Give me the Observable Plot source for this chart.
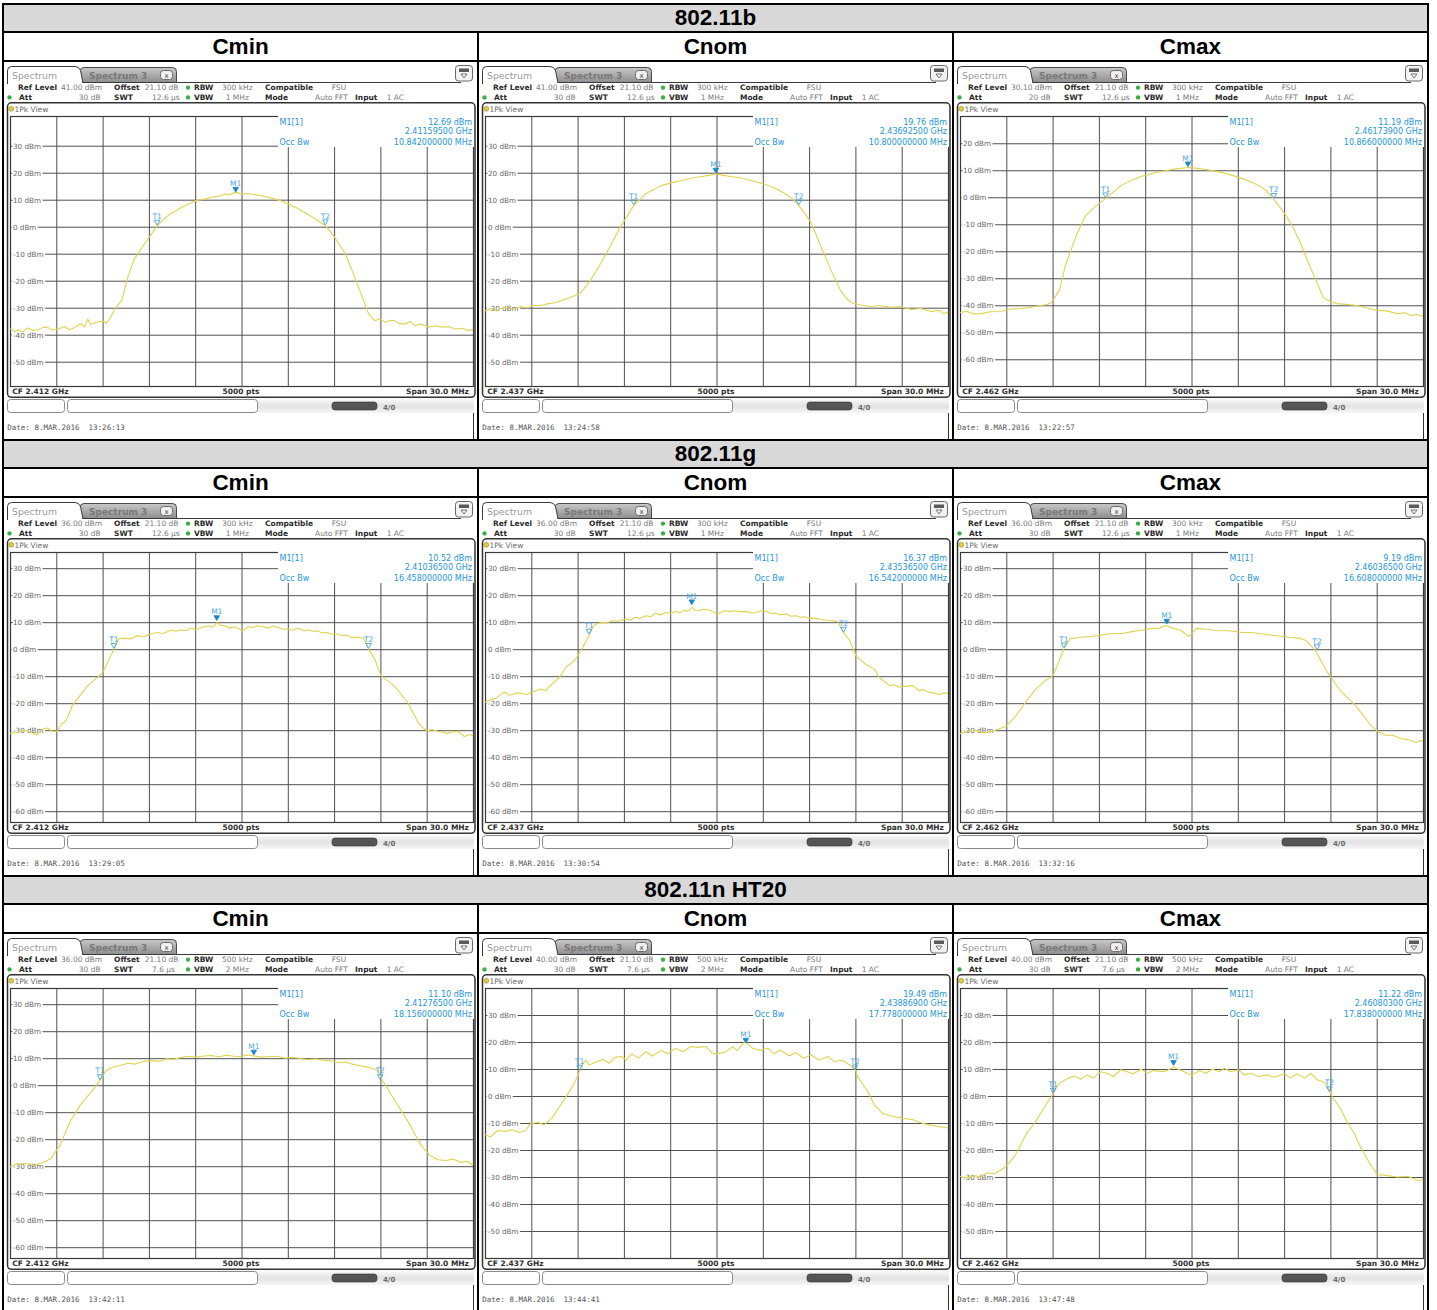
<!DOCTYPE html>
<html>
<head>
<meta charset="utf-8">
<script src="https://cdn.jsdelivr.net/npm/d3@7"></script>
<script src="https://cdn.jsdelivr.net/npm/@observablehq/plot@0.6"></script>
<style>
html,body{margin:0;padding:0;background:#fff;}
#page{position:relative;width:1437px;height:1310px;overflow:hidden;background:#fff;}
.box{position:absolute;box-sizing:border-box;overflow:hidden;}
.hdr{background:#d9d9d9;font:bold 22.5px "Liberation Sans",Arial,sans-serif;color:#000;text-align:center;}
.colh{background:#fff;font:bold 22.5px "Liberation Sans",Arial,sans-serif;color:#000;text-align:center;}
.panel{background:#fff;}
.panel svg{position:absolute;}
</style>
</head>
<body>
<div id="page"></div>
<script>
// ---------- data ----------
const modes = ["802.11b", "802.11g", "802.11n HT20"];
const channels = ["Cmin", "Cnom", "Cmax"];
const centerFreqs = ["2.412", "2.437", "2.462"]; // GHz
const refLevels = [[41, 41, 30.1], [36, 36, 36], [36, 40, 40]]; // dBm
const attValues = [[30, 30, 20], [30, 30, 30], [30, 30, 30]]; // dB
const offsetValue = "21.10 dB";
const swtValues = [["12.6", "12.6", "12.6"], ["12.6", "12.6", "12.6"], ["7.6", "7.6", "7.6"]];
const rbwValues = [["300 kHz", "300 kHz", "300 kHz"], ["300 kHz", "300 kHz", "300 kHz"], ["500 kHz", "500 kHz", "500 kHz"]];
const vbwValues = [["1 MHz", "1 MHz", "1 MHz"], ["1 MHz", "1 MHz", "1 MHz"], ["2 MHz", "2 MHz", "2 MHz"]];
const dateTimes = [["13:26:13", "13:24:58", "13:22:57"], ["13:29:05", "13:30:54", "13:32:16"], ["13:42:11", "13:44:41", "13:47:48"]];
const m1Levels = [["12.69", "19.76", "11.19"], ["10.52", "16.37", "9.19"], ["11.10", "19.49", "11.22"]]; // dBm
const m1Freqs = [["2.41159500", "2.43692500", "2.46173900"], ["2.41036500", "2.43536500", "2.46036500"], ["2.41276500", "2.43886900", "2.46080300"]]; // GHz
const occBw = [["10.842000000", "10.800000000", "10.866000000"], ["16.458000000", "16.542000000", "16.608000000"], ["18.156000000", "17.778000000", "17.838000000"]]; // MHz
// T1 / T2 occupied-bandwidth markers: [offset MHz, level dBm]
const t1Markers = [[[-5.5, 0.5], [-5.4, 8.0], [-5.6, -0.3]], [[-8.3, 0.2], [-8.3, 5.5], [-8.3, 0.4]], [[-9.2, 2.0], [-8.9, 9.5], [-9.0, 1.0]]];
const t2Markers = [[[5.4, 0.6], [5.3, 8.0], [5.3, -0.5]], [[8.2, 0.2], [8.2, 6.2], [8.1, -0.3]], [[8.95, 2.0], [8.95, 9.6], [8.9, 1.5]]];

// traces: [frequency offset from CF (MHz), level (dBm)]
const trace_b_cmin = [[-15,-37.7],[-14.7,-38.6],[-14.5,-38.0],[-14.2,-38.8],[-13.9,-37.3],[-13.6,-38.2],[-13.2,-38.0],[-12.9,-37.1],[-12.6,-37.0],[-12.3,-38.1],[-11.9,-37.7],[-11.5,-36.8],[-11.2,-38.0],[-10.9,-37.3],[-10.6,-36.2],[-10.4,-35.8],[-10.2,-37.0],[-10.0,-34.0],[-9.8,-36.0],[-9.6,-35.6],[-9.3,-35.0],[-9.0,-34.8],[-8.8,-35.5],[-8.5,-33.3],[-8.2,-29.9],[-7.8,-27.2],[-7.4,-18.5],[-7.0,-12.1],[-6.5,-7.7],[-6.1,-4.4],[-5.5,0.5],[-4.8,4.3],[-3.9,7.4],[-3.0,9.9],[-2.5,10.3],[-2.0,11.1],[-1.5,11.5],[-1.1,12.3],[-0.8,12.0],[-0.4,12.9],[0,12.3],[0.5,12.4],[1.2,11.7],[1.6,11.3],[2.1,10.5],[2.5,9.8],[3.0,8.6],[3.5,7.3],[4.0,5.6],[4.5,4.0],[4.9,2.5],[5.4,0.6],[6.0,-3.7],[6.7,-9.9],[7.3,-18.5],[7.8,-25.9],[8.2,-32.1],[8.6,-34.6],[8.9,-34.0],[9.3,-35.2],[9.6,-34.5],[9.9,-34.6],[10.2,-35.7],[10.6,-35.8],[10.9,-34.9],[11.2,-36.4],[11.6,-35.9],[12.1,-37.0],[12.5,-36.5],[13.0,-37.0],[13.4,-36.8],[13.8,-37.7],[14.3,-37.4],[14.6,-38.2],[15,-38.0]];
const trace_b_cnom = [[-15,-30.9],[-14.6,-30.2],[-14.3,-31.0],[-14.0,-30.1],[-13.6,-29.6],[-13.2,-30.3],[-12.7,-29.4],[-12.3,-29.9],[-11.9,-29.0],[-11.4,-29.0],[-11.0,-28.4],[-10.4,-27.9],[-10.0,-27.0],[-9.5,-26.0],[-9.1,-25.0],[-8.8,-24.2],[-8.2,-19.7],[-7.5,-13.1],[-6.9,-6.8],[-6.2,0.6],[-5.4,8.0],[-4.6,12.5],[-3.6,15.4],[-2.9,16.5],[-2.3,17.3],[-1.6,18.2],[-1.0,18.8],[-0.5,19.2],[-0.1,19.8],[0.4,19.2],[0.9,18.8],[1.5,18.3],[2.2,17.3],[2.8,16.4],[3.5,15.1],[4.0,13.8],[4.5,12.1],[4.9,10.5],[5.3,8.0],[5.7,5.0],[6.1,1.7],[6.7,-6.8],[7.4,-16.0],[8.0,-23.4],[8.4,-26.5],[8.7,-27.9],[9.3,-28.8],[10.0,-29.4],[10.5,-29.0],[11.3,-29.7],[11.8,-29.4],[12.6,-30.5],[13.2,-30.1],[13.9,-31.2],[14.4,-30.8],[14.7,-32.0],[15,-31.5]];
const trace_b_cmax = [[-15,-42.5],[-14.6,-42.0],[-14.2,-43.0],[-13.6,-42.9],[-13.1,-42.2],[-12.4,-42.1],[-11.8,-41.3],[-11.1,-41.0],[-10.5,-40.6],[-9.8,-39.9],[-9.4,-39.5],[-9.1,-38.8],[-8.6,-34.3],[-8.2,-25.1],[-7.5,-14.0],[-6.9,-6.6],[-6.2,-2.9],[-5.6,-0.3],[-4.6,4.5],[-3.9,6.5],[-3.3,7.9],[-2.6,9.0],[-2.0,9.7],[-1.3,10.5],[-0.7,10.9],[-0.2,11.2],[0.5,10.8],[1.3,10.1],[2.0,9.3],[2.6,8.3],[3.3,7.0],[3.9,5.7],[4.4,4.3],[4.8,2.7],[5.3,-0.5],[6.1,-6.6],[6.6,-11.5],[7.1,-17.7],[7.5,-23.5],[7.9,-28.8],[8.5,-36.9],[9.0,-38.6],[9.4,-39.2],[10.0,-39.5],[10.7,-39.9],[11.3,-40.8],[12.0,-41.7],[12.6,-41.9],[13.3,-42.9],[13.8,-42.6],[14.2,-43.6],[14.6,-43.2],[15,-44.0]];
const trace_g_cmin = [[-15,-31.0],[-14.5,-30.6],[-14.1,-29.8],[-13.7,-30.6],[-13.3,-31.5],[-12.9,-29.4],[-12.6,-29.0],[-12.3,-30.2],[-12.0,-30.2],[-11.7,-27.5],[-11.5,-26.9],[-11.3,-25.1],[-11.0,-20.7],[-10.5,-17.0],[-10.0,-13.3],[-9.5,-10.9],[-9.1,-9.0],[-8.8,-5.9],[-8.5,-2.2],[-8.3,0.2],[-8.0,4.0],[-7.6,4.3],[-7.2,4.0],[-6.8,5.2],[-6.4,4.8],[-6.1,5.4],[-5.8,6.0],[-5.5,6.4],[-5.1,6.0],[-4.6,7.3],[-4.3,6.8],[-4.0,7.3],[-3.6,7.0],[-3.3,8.0],[-3.0,7.4],[-2.7,8.0],[-2.4,8.6],[-2.2,8.9],[-1.9,8.3],[-1.6,10.1],[-1.4,9.0],[-1.1,8.9],[-0.8,8.0],[-0.5,8.5],[-0.2,7.8],[0.0,7.0],[0.2,7.6],[0.4,8.5],[0.7,8.2],[1.0,8.9],[1.4,8.5],[1.7,8.0],[2.0,8.8],[2.3,8.3],[2.7,7.6],[3.0,7.7],[3.3,7.2],[3.6,8.0],[4.0,7.0],[4.3,7.3],[4.6,6.8],[4.9,7.0],[5.2,6.2],[5.5,6.4],[5.9,5.6],[6.2,5.8],[6.5,5.2],[6.8,5.4],[7.1,4.5],[7.5,4.6],[7.9,4.2],[8.2,0.2],[8.6,-3.5],[9.0,-9.6],[9.3,-11.0],[9.6,-12.1],[10.0,-14.2],[10.3,-16.4],[10.8,-20.1],[11.1,-23.5],[11.4,-26.9],[11.7,-28.8],[12.0,-30.0],[12.3,-29.6],[12.7,-30.2],[13.0,-30.6],[13.3,-31.0],[13.7,-30.4],[14.0,-30.2],[14.2,-31.2],[14.4,-32.2],[14.7,-31.4],[15,-31.9]];
const trace_g_cnom = [[-15,-19.5],[-14.6,-18.3],[-14.3,-18.0],[-14.1,-17.0],[-13.9,-16.0],[-13.7,-15.8],[-13.5,-16.9],[-13.3,-16.7],[-13.0,-16.0],[-12.6,-16.2],[-12.3,-16.6],[-12.0,-15.8],[-11.7,-15.1],[-11.4,-14.6],[-11.1,-15.2],[-10.8,-13.3],[-10.5,-11.8],[-10.2,-10.2],[-9.8,-6.5],[-9.5,-5.2],[-9.2,-3.8],[-8.9,-1.0],[-8.7,0.9],[-8.5,3.0],[-8.3,5.2],[-8.0,8.9],[-7.7,9.8],[-7.4,10.1],[-7.1,10.0],[-6.8,10.7],[-6.4,10.5],[-5.9,11.4],[-5.6,11.0],[-5.3,12.0],[-5.0,11.6],[-4.6,12.6],[-4.3,12.2],[-4.0,13.5],[-3.7,12.9],[-3.3,13.8],[-3.0,13.4],[-2.7,14.2],[-2.4,13.6],[-2.1,14.7],[-1.9,14.2],[-1.6,15.7],[-1.4,14.6],[-1.2,14.4],[-0.9,15.0],[-0.5,14.7],[-0.2,14.0],[0.0,13.0],[0.2,13.6],[0.5,14.4],[0.8,14.2],[1.2,14.4],[1.5,14.0],[1.9,14.2],[2.2,13.6],[2.5,13.8],[2.9,14.4],[3.2,14.2],[3.5,13.4],[3.8,13.5],[4.1,13.0],[4.5,13.2],[4.8,12.4],[5.1,12.6],[5.4,12.0],[5.7,12.2],[6.0,11.6],[6.4,11.7],[6.7,11.2],[7.0,11.0],[7.4,10.8],[7.8,10.5],[8.2,6.4],[8.6,3.3],[9.0,-2.2],[9.3,-3.8],[9.6,-5.3],[10.2,-7.2],[10.5,-10.2],[10.8,-11.6],[11.2,-13.3],[11.5,-13.0],[11.8,-13.9],[12.2,-13.6],[12.7,-13.3],[13.1,-15.2],[13.4,-14.8],[13.7,-15.8],[14.0,-16.0],[14.4,-16.7],[14.7,-16.0],[15,-16.2]];
const trace_g_cmax = [[-15,-31.0],[-14.5,-30.2],[-14.0,-29.9],[-13.5,-30.8],[-13.0,-30.3],[-12.5,-29.4],[-12.0,-28.1],[-11.4,-24.4],[-10.7,-18.8],[-10.1,-14.4],[-9.5,-11.4],[-9.0,-9.6],[-8.6,-4.0],[-8.3,0.4],[-7.9,4.1],[-7.2,4.6],[-6.5,4.9],[-5.9,5.4],[-5.2,6.0],[-4.5,6.0],[-3.9,6.7],[-3.2,7.3],[-2.6,7.9],[-2.1,8.0],[-1.7,9.0],[-1.2,7.9],[-0.7,7.1],[-0.2,4.9],[0.3,7.9],[0.9,7.6],[1.6,7.1],[2.4,7.0],[3.2,6.4],[4.0,6.3],[4.8,5.6],[5.6,5.1],[6.4,4.5],[7.0,4.2],[7.4,3.4],[8.0,-0.3],[8.7,-7.7],[9.6,-15.1],[10.6,-20.7],[11.6,-28.1],[12.1,-30.5],[12.6,-31.8],[13.0,-31.6],[13.5,-32.9],[14.0,-33.3],[14.5,-34.4],[14.8,-33.6],[15,-34.0]];
const trace_n_cmin = [[-15,-30.0],[-14.6,-29.0],[-14.0,-28.8],[-13.5,-29.5],[-13.1,-28.8],[-12.7,-28.0],[-12.4,-27.0],[-11.8,-22.1],[-11.1,-12.9],[-10.5,-7.3],[-9.7,-1.8],[-9.2,2.0],[-8.8,5.6],[-8.4,6.8],[-7.9,7.5],[-7.4,8.3],[-6.9,8.0],[-6.4,9.0],[-5.9,9.3],[-5.4,9.0],[-4.9,10.0],[-4.4,9.8],[-4.0,10.4],[-3.5,10.9],[-3.0,10.5],[-2.5,11.0],[-2.0,11.2],[-1.5,10.7],[-1.0,11.3],[-0.5,10.9],[-0.1,10.8],[0.3,11.4],[0.7,11.1],[1.2,10.6],[1.8,10.8],[2.3,10.9],[2.8,10.2],[3.3,10.5],[3.8,10.1],[4.3,9.6],[4.8,10.0],[5.2,9.4],[5.7,9.3],[6.2,8.6],[6.7,8.8],[7.2,7.9],[7.6,7.5],[8.2,6.8],[8.8,5.6],[9.1,1.9],[9.9,-5.5],[10.4,-10.0],[10.9,-14.7],[11.6,-22.1],[12.2,-25.9],[12.7,-27.4],[13.2,-27.7],[13.7,-27.2],[14.2,-28.4],[14.6,-28.0],[15,-29.6]];
const trace_n_cnom = [[-15,-14.2],[-14.7,-15.0],[-14.2,-12.6],[-13.7,-12.9],[-13.3,-12.3],[-12.8,-13.3],[-12.4,-12.6],[-12.1,-10.1],[-11.6,-9.6],[-11.2,-10.5],[-10.7,-8.0],[-10.2,-3.7],[-9.7,0.6],[-9.3,4.3],[-9.0,8.0],[-8.8,11.1],[-8.5,13.5],[-8.3,11.7],[-7.9,12.6],[-7.4,13.8],[-7.0,12.3],[-6.6,14.5],[-6.2,14.8],[-5.9,13.5],[-5.5,15.8],[-5.1,14.2],[-4.6,16.6],[-4.2,15.0],[-3.6,17.0],[-3.2,15.8],[-2.7,17.9],[-2.2,16.6],[-1.7,18.5],[-1.2,18.2],[-0.7,18.5],[-0.3,16.0],[0.0,15.8],[0.6,16.6],[1.0,18.5],[1.3,17.0],[1.8,20.3],[2.3,17.9],[2.8,17.0],[3.3,17.9],[3.7,15.8],[4.1,17.2],[4.7,15.0],[5.1,16.3],[5.6,14.2],[6.1,15.4],[6.6,13.5],[7.2,14.8],[7.6,12.9],[8.1,13.5],[8.6,11.7],[9.0,9.6],[9.1,7.4],[9.7,2.5],[10.2,-3.1],[10.7,-6.2],[11.4,-7.4],[12.0,-8.0],[12.7,-8.6],[13.3,-9.9],[14.0,-10.8],[15,-11.7]];
const trace_n_cmax = [[-15,-29.6],[-14.6,-30.2],[-14.1,-29.3],[-13.7,-29.8],[-13.3,-28.3],[-12.8,-28.6],[-12.4,-27.3],[-12.0,-25.6],[-11.5,-22.2],[-11.1,-17.9],[-10.7,-13.5],[-10.2,-9.9],[-9.8,-6.2],[-9.4,-2.5],[-9.0,1.0],[-8.7,4.3],[-8.3,5.9],[-8.0,6.8],[-7.6,7.6],[-7.2,6.4],[-6.8,8.0],[-6.4,6.8],[-5.9,9.2],[-5.5,8.6],[-5.1,7.4],[-4.6,9.9],[-4.2,9.2],[-3.8,8.4],[-3.3,10.1],[-2.9,8.6],[-2.5,9.6],[-1.8,9.2],[-1.2,10.8],[-0.8,9.9],[-0.3,8.6],[0,8.0],[0.5,9.6],[0.9,8.6],[1.3,10.1],[1.8,9.2],[2.1,10.5],[2.5,9.2],[3.0,9.9],[3.4,8.0],[3.8,8.6],[4.3,7.4],[4.9,8.0],[5.3,7.1],[6.0,8.4],[6.4,6.8],[6.8,8.4],[7.3,6.8],[7.7,8.6],[8.1,6.2],[8.6,5.2],[8.9,2.5],[9.1,-0.2],[9.6,-4.3],[10.1,-9.9],[10.5,-13.5],[10.9,-18.5],[11.5,-24.6],[12.0,-28.9],[12.7,-29.3],[13.3,-29.8],[14.0,-29.6],[14.6,-31.0],[15,-30.8]];
const traces = [[trace_b_cmin, trace_b_cnom, trace_b_cmax], [trace_g_cmin, trace_g_cnom, trace_g_cmax], [trace_n_cmin, trace_n_cnom, trace_n_cmax]];
const xGrid = [-12, -9, -6, -3, 0, 3, 6, 9, 12]; // MHz (3 MHz / div)

// ---------- layout ----------
const page = document.getElementById("page");
const colX = [4, 479, 954];
const PW = 473, PH = 377;

function addBox(cls, x, y, w, h, text) {
  const d = document.createElement("div");
  d.className = "box " + cls;
  Object.assign(d.style, {left: x + "px", top: y + "px", width: w + "px", height: h + "px", lineHeight: h + "px"});
  if (text) d.textContent = text;
  page.appendChild(d);
  return d;
}
// black table borders
addBox("", 2, 3, 1427, 1310).style.background = "#000";

const TRI = {draw(ctx) { ctx.moveTo(-2.8, -5.6); ctx.lineTo(2.8, -5.6); ctx.lineTo(0, -0.8); ctx.closePath(); }};

function txt(g, x, y, s, o = {}) {
  return g.append("text").attr("x", x).attr("y", y).text(s)
    .attr("font-family", o.family || "DejaVu Sans")
    .attr("font-size", o.size || 7.5)
    .attr("font-weight", o.bold ? "bold" : "normal")
    .attr("fill", o.fill || "#7a7a7a")
    .attr("text-anchor", o.anchor || "start")
    .style("white-space", "pre");
}

function buildPanel(panel, b, c) {
  const ref = refLevels[b][c];
  const lo = ref - 100;
  const yTicks = d3.range(Math.ceil((lo + 1) / 10) * 10, ref - 1, 10);
  const m1x = (parseFloat(m1Freqs[b][c]) - parseFloat(centerFreqs[c])) * 1000;
  const m1 = [{x: m1x, y: parseFloat(m1Levels[b][c]), name: "M1"}];
  const tm = [{x: t1Markers[b][c][0], y: t1Markers[b][c][1], name: "T1"}, {x: t2Markers[b][c][0], y: t2Markers[b][c][1], name: "T2"}];

  const chart = Plot.plot({
    width: 463, height: 270, margin: 0,
    style: {overflow: "visible", background: "transparent"},
    x: {domain: [-15, 15], axis: null},
    y: {domain: [lo, ref], axis: null},
    marks: [
      Plot.ruleX(xGrid, {stroke: "#505050", strokeWidth: 1}),
      Plot.ruleY(yTicks, {stroke: "#505050", strokeWidth: 1}),
      Plot.text(yTicks, {y: d => d, frameAnchor: "left", dx: 2.5, text: d => `${d} dBm`, textAnchor: "start",
        fontSize: 7.2, fontFamily: "DejaVu Sans", fill: "#666", stroke: "white", strokeWidth: 4}),
      Plot.frame({stroke: "#3a3a3a", strokeWidth: 1.2}),
      Plot.line(traces[b][c], {x: d => d[0], y: d => d[1], stroke: "#e2d34f", strokeWidth: 1.1, clip: true}),
      Plot.dot(m1, {x: "x", y: "y", symbol: TRI, fill: "#1a86cc", stroke: "#1a86cc", strokeWidth: 0.8}),
      Plot.dot(tm, {x: "x", y: "y", symbol: TRI, fill: "white", fillOpacity: 0, stroke: "#3fa2dc", strokeWidth: 0.9}),
      Plot.text(m1.concat(tm), {x: "x", y: "y", text: "name", dy: -7, lineAnchor: "bottom", fontSize: 7.5,
        fontFamily: "DejaVu Sans", fill: "#4aa8e0"})
    ]
  });
  chart.style.left = "6px";
  chart.style.top = "54px";
  panel.appendChild(chart);

  // instrument screen decorations
  const svg = d3.create("svg").attr("width", PW).attr("height", PH).style("left", "0px").style("top", "0px");
  const defs = svg.append("defs");
  const gid = `tabg${b}${c}`;
  const lg = defs.append("linearGradient").attr("id", gid).attr("x1", 0).attr("y1", 0).attr("x2", 0).attr("y2", 1);
  lg.append("stop").attr("offset", 0).attr("stop-color", "#c8c8c8");
  lg.append("stop").attr("offset", 1).attr("stop-color", "#8c8c8c");
  const sid = `stg${b}${c}`;
  const sg = defs.append("linearGradient").attr("id", sid).attr("x1", 0).attr("y1", 0).attr("x2", 0).attr("y2", 1);
  sg.append("stop").attr("offset", 0).attr("stop-color", "#fafafa");
  sg.append("stop").attr("offset", 0.5).attr("stop-color", "#e2e2e2");
  sg.append("stop").attr("offset", 1).attr("stop-color", "#f6f6f6");

  // tabs
  svg.append("path").attr("d", "M77,21 L76,9.5 Q76,5.5 80,5.5 H168.5 Q172.5,5.5 172.5,9.5 V21")
    .attr("fill", `url(#${gid})`).attr("stroke", "#4a4a4a");
  txt(svg, 85, 16.5, "Spectrum 3", {size: 9, fill: "#787878", bold: true});
  svg.append("rect").attr("x", 156.5).attr("y", 8.5).attr("width", 12).attr("height", 9).attr("rx", 3)
    .attr("fill", "#f0f0f0").attr("stroke", "#6a6a6a");
  txt(svg, 162.5, 15.6, "x", {size: 7, fill: "#444", anchor: "middle"});
  svg.append("path").attr("d", "M3.5,22 V8.5 Q3.5,4.5 7.5,4.5 H71 Q75,4.5 76.5,8.5 L79,21")
    .attr("fill", "#fff").attr("stroke", "#3a3a3a");
  txt(svg, 8, 16.5, "Spectrum", {size: 9.3, fill: "#9a9a9a"});
  svg.append("line").attr("x1", 78.5).attr("x2", 457).attr("y1", 20.5).attr("y2", 20.5).attr("stroke", "#3a3a3a");
  // top-right icon
  svg.append("rect").attr("x", 451.5).attr("y", 3.5).attr("width", 17).attr("height", 15.5).attr("rx", 3)
    .attr("fill", "#f2f2f2").attr("stroke", "#6a6a6a");
  svg.append("rect").attr("x", 455).attr("y", 6.5).attr("width", 10).attr("height", 3.5).attr("fill", "#5a5a5a");
  svg.append("path").attr("d", "M457,12 L463,12 L460,16 Z").attr("fill", "none").attr("stroke", "#5a5a5a").attr("stroke-width", 0.8);

  // header rows
  const L = {bold: true, fill: "#2a2a2a"};
  const V = {fill: "#7a7a7a"};
  txt(svg, 14, 28.3, "Ref Level", L); txt(svg, 57, 28.3, ref.toFixed(2) + " dBm", V);
  txt(svg, 110, 28.3, "Offset", L); txt(svg, 140.7, 28.3, offsetValue, V);
  svg.append("circle").attr("cx", 184).attr("cy", 25.6).attr("r", 2.2).attr("fill", "#3cae48");
  txt(svg, 190, 28.3, "RBW", L); txt(svg, 218, 28.3, rbwValues[b][c], V);
  txt(svg, 261, 28.3, "Compatible", L); txt(svg, 327.7, 28.3, "FSU", V);
  svg.append("circle").attr("cx", 5.5).attr("cy", 35.4).attr("r", 2.2).attr("fill", "#3cae48");
  txt(svg, 15, 38, "Att", L); txt(svg, 96.7, 38, attValues[b][c] + " dB", Object.assign({anchor: "end"}, V));
  txt(svg, 110, 38, "SWT", L); txt(svg, 148, 38, swtValues[b][c] + " µs", V);
  svg.append("circle").attr("cx", 184).attr("cy", 35.4).attr("r", 2.2).attr("fill", "#3cae48");
  txt(svg, 190, 38, "VBW", L); txt(svg, 221.7, 38, vbwValues[b][c], V);
  txt(svg, 261, 38, "Mode", L); txt(svg, 311, 38, "Auto FFT", V);
  txt(svg, 351, 38, "Input", L); txt(svg, 382.7, 38, "1 AC", V);

  // 1Pk View window frame
  svg.append("rect").attr("x", 3.5).attr("y", 40.8).attr("width", 467.5).attr("height", 294.5).attr("rx", 4)
    .attr("fill", "none").attr("stroke", "#333").attr("stroke-width", 1.5);
  svg.append("circle").attr("cx", 7.3).attr("cy", 46.8).attr("r", 2.4).attr("fill", "#e6cf3a").attr("stroke", "#8a7a10").attr("stroke-width", 0.6);
  txt(svg, 10.5, 49.6, "1Pk View", {size: 7.5, fill: "#6a6a6a"});

  // marker info box
  svg.append("rect").attr("x", 274).attr("y", 53).attr("width", 196).attr("height", 32).attr("fill", "#fff");
  const B = {size: 8, fill: "#2596d8"};
  txt(svg, 275.5, 62.6, "M1[1]", B);
  txt(svg, 468, 62.6, m1Levels[b][c] + " dBm", Object.assign({anchor: "end"}, B));
  txt(svg, 468, 72.3, m1Freqs[b][c] + " GHz", Object.assign({anchor: "end"}, B));
  txt(svg, 275.5, 82.6, "Occ Bw", B);
  txt(svg, 468, 82.6, occBw[b][c] + " MHz", Object.assign({anchor: "end"}, B));

  // bottom info row
  const F = {bold: true, fill: "#2e2e2e", size: 7.5};
  txt(svg, 8.3, 332, "CF " + centerFreqs[c] + " GHz", F);
  txt(svg, 237, 332, "5000 pts", Object.assign({anchor: "middle"}, F));
  txt(svg, 465, 332, "Span 30.0 MHz", Object.assign({anchor: "end"}, F));

  // status bar
  svg.append("rect").attr("x", 254).attr("y", 337).attr("width", 216).attr("height", 14).attr("fill", `url(#${sid})`);
  svg.append("rect").attr("x", 3.5).attr("y", 337.5).attr("width", 57).attr("height", 13).attr("rx", 3)
    .attr("fill", "#fff").attr("stroke", "#8a8a8a");
  svg.append("rect").attr("x", 63.5).attr("y", 337.5).attr("width", 190).attr("height", 13).attr("rx", 3)
    .attr("fill", "#fff").attr("stroke", "#8a8a8a");
  svg.append("rect").attr("x", 328).attr("y", 340).attr("width", 45).attr("height", 8).attr("rx", 3)
    .attr("fill", "#555").attr("stroke", "#333").attr("stroke-width", 0.6);
  txt(svg, 379, 347.5, "4/0", {size: 7, bold: true, fill: "#6a6a6a"});
  svg.append("line").attr("x1", 469.5).attr("x2", 469.5).attr("y1", 351).attr("y2", PH).attr("stroke", "#333");

  // date
  txt(svg, 3.3, 367.5, "Date: 8.MAR.2016  " + dateTimes[b][c], {family: "DejaVu Sans Mono", size: 7.5, fill: "#555"});

  panel.appendChild(svg.node());
}

modes.forEach((mode, b) => {
  const T = 3 + 436 * b;
  addBox("hdr", 4, T + 2, 1423, 26, mode);
  channels.forEach((ch, c) => {
    addBox("colh", colX[c], T + 30, PW, 27, ch);
    const panel = addBox("panel", colX[c], T + 59, PW, PH, "");
    buildPanel(panel, b, c);
  });
});
</script>
</body>
</html>
